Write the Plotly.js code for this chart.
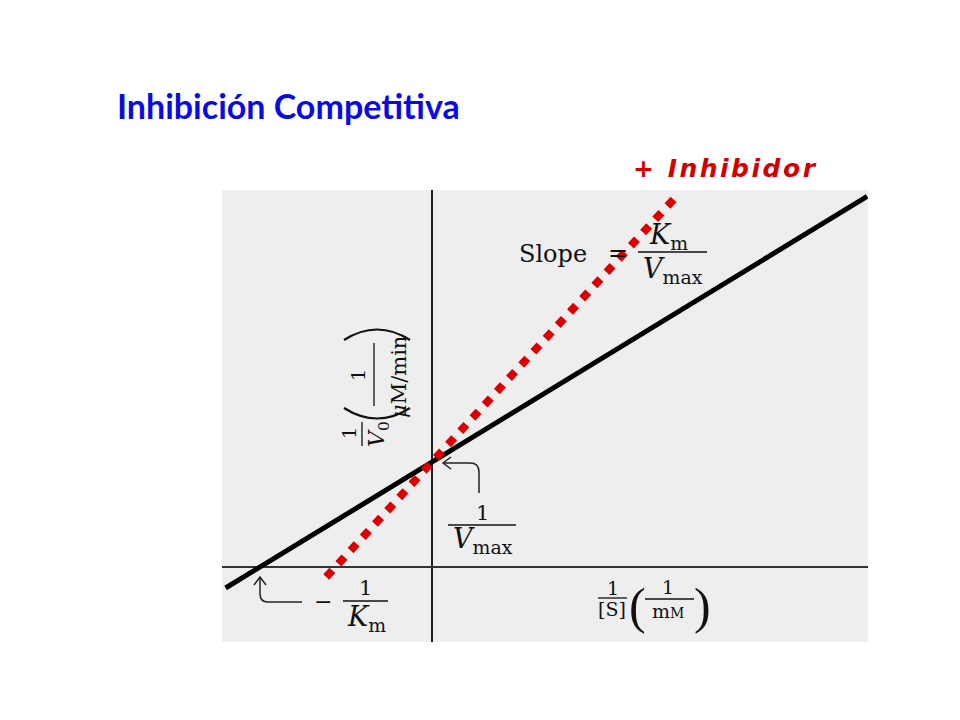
<!DOCTYPE html>
<html>
<head>
<meta charset="utf-8">
<script src="https://cdn.plot.ly/plotly-3.0.1.min.js"></script>
<style>html,body{margin:0;padding:0;background:#fff;}#chart{width:960px;height:720px;}</style>
</head>
<body>
<div id="chart"></div>
<script>
// ---- data (Lineweaver-Burk, units: x in 1/Km, y in 1/Vmax) ----
const solidX = [-1.20, 2.53];    // without inhibitor: 1/[S]
const solidY = [-0.20, 3.53];    // 1/V0
const inhibX = [-0.615, 1.435];  // + inhibidor: 1/[S]
const inhibY = [-0.095, 3.555];  // 1/V0
const xRange = [-1.2209, 2.5349];
const yRange = [-0.7143, 3.5905];
const titleText = 'Inhibición Competitiva';
const inhibLabel = '+ Inhibidor';

// ---- layout helpers (pixel -> paper) ----
const PL = 222, PR = 868, PT = 190, PB = 642;
const px = x => (x - PL) / (PR - PL);
const py = y => (PB - y) / (PB - PT);
const SERIF = 'DejaVu Serif, Liberation Serif, serif';
const INK = '#111111';

function txt(text, x, y, size, extra) {
  return Object.assign({
    text: text, xref: 'paper', yref: 'paper', x: px(x), y: py(y),
    xanchor: 'center', yanchor: 'middle', showarrow: false,
    font: {family: SERIF, size: size, color: INK}
  }, extra || {});
}
function hbar(x0, x1, y) {
  return {type: 'line', xref: 'paper', yref: 'paper', x0: px(x0), x1: px(x1), y0: py(y), y1: py(y),
          line: {color: INK, width: 1.3}};
}
function vbar(x, y0, y1) {
  return {type: 'line', xref: 'paper', yref: 'paper', x0: px(x), x1: px(x), y0: py(y0), y1: py(y1),
          line: {color: INK, width: 1.3}};
}
function pathShape(cmds, w, col) {
  let s = '';
  cmds.forEach(c => {
    s += c[0];
    for (let i = 1; i < c.length; i += 2) {
      s += ' ' + px(c[i]).toFixed(5) + ',' + py(c[i + 1]).toFixed(5) + ' ';
    }
  });
  return {type: 'path', xref: 'paper', yref: 'paper', path: s.trim(),
          line: {color: col || '#222', width: w || 1.5}};
}

const traces = [
  {x: solidX, y: solidY, mode: 'lines', type: 'scatter',
   line: {color: '#000000', width: 5}, hoverinfo: 'skip', showlegend: false},
  {x: inhibX, y: inhibY, mode: 'lines', type: 'scatter',
   line: {color: '#dd0000', width: 8, dash: '9px,9px'}, hoverinfo: 'skip', showlegend: false}
];

const annotations = [
  // + Inhibidor
  txt('<span style="letter-spacing:2.5px">' + inhibLabel + '</span>', 725, 168, 25,
      {font: {family: 'DejaVu Sans, Liberation Sans, sans-serif', size: 25, color: '#d40000',
              weight: 'bold', style: 'italic'}}),
  // Slope = Km / Vmax
  txt('Slope', 553, 254, 24),
  txt('=', 618, 253, 24),
  txt('<i>K</i><sub>m</sub>', 668, 236, 27),
  txt('<i>V</i><sub>max</sub>', 673, 270, 27),
  // 1 / Vmax
  txt('1', 482, 513, 21),
  txt('<i>V</i><sub>max</sub>', 483, 540, 27),
  // - 1 / Km
  txt('\u2212', 323, 601, 22),
  txt('1', 365, 588, 21),
  txt('<i>K</i><sub>m</sub>', 366, 618, 27),
  // x label: 1/[S] (1/mM)
  txt('1', 613, 588, 19),
  txt('[S]', 612, 609, 19),
  txt('(', 637, 606, 50, {font: {family: 'Liberation Serif, serif', size: 50, color: INK}}),
  txt('1', 668, 587, 19),
  txt('m<span style="font-size:14px">M</span>', 668, 611, 19),
  txt(')', 702, 606, 50, {font: {family: 'Liberation Serif, serif', size: 50, color: INK}}),
  // y label (rotated): 1/V0 ( 1/(μM/min) )
  txt('1', 349, 433, 19, {textangle: -90}),
  txt('<i>V</i><sub>0</sub>', 378, 434, 22, {textangle: -90}),
  txt('1', 358, 375, 19, {textangle: -90}),
  txt('<i>\u03bc</i>M/min', 399, 377, 21, {textangle: -90})
];

const shapes = [
  hbar(638, 707, 252),          // Km/Vmax bar
  hbar(448, 516, 525),          // 1/Vmax bar
  hbar(343, 388, 601),          // 1/Km bar
  hbar(598, 627, 598),          // 1/[S] bar
  hbar(645, 694, 599),          // 1/mM bar
  vbar(362, 422, 446),          // 1/V0 bar
  vbar(374, 343, 406),          // 1/(uM/min) bar
  // big delimiters of the rotated y label
  pathShape([['M', 344, 408], ['Q', 377, 429, 410, 408]], 2.2, INK),
  pathShape([['M', 344, 340], ['Q', 377, 319, 410, 340]], 2.2, INK),
  // arrow to 1/Vmax intercept
  pathShape([['M', 479, 493], ['L', 479, 472], ['Q', 479, 463, 470, 463], ['L', 444, 463]]),
  pathShape([['M', 451, 457], ['L', 443, 463], ['L', 451, 469]]),
  // arrow to -1/Km intercept
  pathShape([['M', 302, 602], ['L', 268, 602], ['Q', 260, 602, 260, 594], ['L', 260, 578]]),
  pathShape([['M', 254, 585], ['L', 260, 577], ['L', 266, 585]])
];

const layout = {
  width: 960, height: 720,
  margin: {l: PL, r: 960 - PR, t: PT, b: 720 - PB, pad: 0},
  paper_bgcolor: '#ffffff',
  plot_bgcolor: '#eeeeee',
  title: {text: titleText, xref: 'container', yref: 'container',
          x: 117 / 960, xanchor: 'left', y: 1 - 107 / 720, yanchor: 'middle',
          font: {family: 'Lato, Open Sans, sans-serif', size: 34, color: '#0a0ae6', weight: 'bold'}},
  xaxis: {range: xRange, showgrid: false, showticklabels: false, ticks: '', showline: false,
          zeroline: true, zerolinecolor: '#222', zerolinewidth: 1.8, fixedrange: true},
  yaxis: {range: yRange, showgrid: false, showticklabels: false, ticks: '', showline: false,
          zeroline: true, zerolinecolor: '#333', zerolinewidth: 1.8, fixedrange: true},
  showlegend: false,
  annotations: annotations,
  shapes: shapes
};

Plotly.newPlot('chart', traces, layout, {staticPlot: true, displayModeBar: false});
</script>
</body>
</html>
